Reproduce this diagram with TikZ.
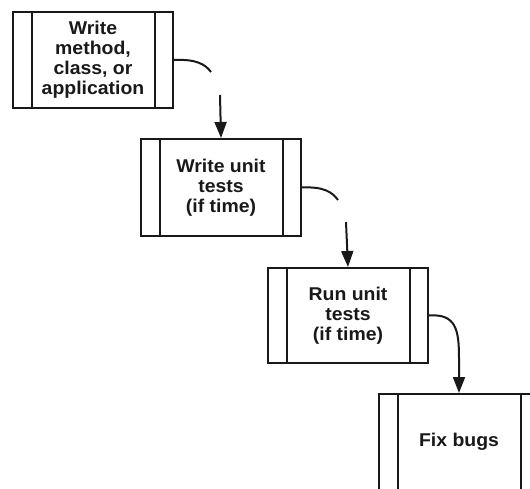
\documentclass[tikz,border=0pt]{standalone}
\usepackage{fontspec}
\setmainfont{Liberation Sans}
\newfontfamily\boxfont{Liberation Sans}[FakeStretch=1.05]
\usetikzlibrary{arrows.meta}
\begin{document}
\begin{tikzpicture}[x=1pt,y=-1pt,
  procbox/.style={draw=black!90, line width=2pt, fill=white, minimum width=160pt,
    minimum height=96pt, align=center, inner sep=0pt,
    font=\boxfont\bfseries\fontsize{18.5}{20}\selectfont, text=black!90},
  boxline/.style={draw=black!90, line width=2pt},
  conn/.style={draw=black!90, line width=2pt},
  arrowconn/.style={conn, -{Triangle[length=16pt,width=12pt]}}]
\useasboundingbox (0,0) rectangle (530,489);
\clip (0,0) rectangle (530,489);
\node[procbox] (b1) at (93,60) {Write\\method,\\class, or\\application};
\node[procbox, minimum height=97pt] (b2) at (221,187.5) {Write unit\\tests\\(if time)};
\node[procbox, minimum height=95pt] (b3) at (348,315.5) {Run unit\\tests\\(if time)};
\node[procbox] (b4) at (459,442) {Fix bugs};
\foreach \n in {b1,b2,b3,b4} {
  \draw[boxline] ([xshift=19.5pt]\n.north west) -- ([xshift=19.5pt]\n.south west);
  \draw[boxline] ([xshift=-19pt]\n.north east) -- ([xshift=-19pt]\n.south east);
}
\coordinate (c1) at (211,72);
\coordinate (c1b) at (220,95);
\coordinate (c2) at (338,200);
\coordinate (c2b) at (346,222);
\draw[conn] (b1.east) .. controls +(22,-1) and +(-6,-8) .. (c1);
\draw[arrowconn] (c1b) -- (b2.north);
\draw[conn] (b2.east) .. controls +(22,-1) and +(-6,-8) .. (c2);
\draw[arrowconn] (c2b) -- (b3.north);
\draw[arrowconn] (b3.east) .. controls +(27,-2) and +(0,-28) .. ([yshift=35pt]b4.north) -- (b4.north);
\end{tikzpicture}
\end{document}
